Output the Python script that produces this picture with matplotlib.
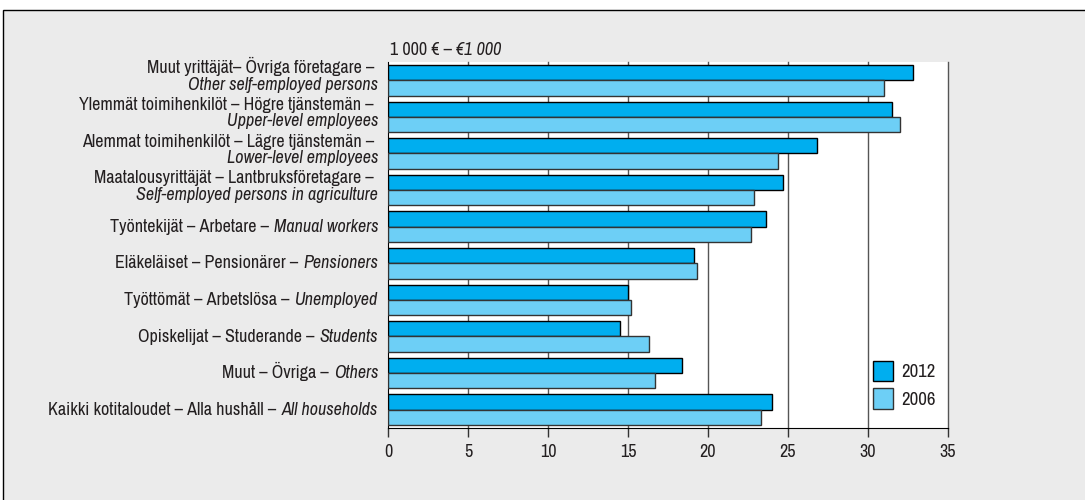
import matplotlib
matplotlib.use('Agg')
import matplotlib.pyplot as plt
from matplotlib import font_manager
from matplotlib.patches import Rectangle, Patch
import numpy as np

# look for a narrow font; fall back to DejaVu Sans
narrow = None
stretch = 'normal'
for f in font_manager.fontManager.ttflist:
    if 'Narrow' in f.name or 'Condensed' in f.name:
        narrow = f.name
        break
if narrow is None:
    for f in font_manager.fontManager.ttflist:
        if f.stretch in ('condensed', 'semi-condensed', 'extra-condensed', 600, 700) or \
                (isinstance(f.stretch, int) and f.stretch < 500):
            narrow = f.name
            stretch = 'condensed'
            break
if narrow:
    plt.rcParams['font.family'] = [narrow, 'DejaVu Sans']
    plt.rcParams['font.stretch'] = stretch
    fs = 13.0
else:
    plt.rcParams['font.family'] = ['DejaVu Sans']
    fs = 9.3

# data (1 000 €)
groups_fi = ['Muut yrittäjät– Övriga företagare –',
             'Ylemmät toimihenkilöt – Högre tjänstemän –',
             'Alemmat toimihenkilöt – Lägre tjänstemän –',
             'Maatalousyrittäjät – Lantbruksföretagare –',
             'Työntekijät – Arbetare – ',
             'Eläkeläiset – Pensionärer – ',
             'Työttömät – Arbetslösa – ',
             'Opiskelijat – Studerande – ',
             'Muut – Övriga – ',
             'Kaikki kotitaloudet – Alla hushåll – ']
groups_en = ['Other self-employed persons',
             'Upper-level employees',
             'Lower-level employees',
             'Self-employed persons in agriculture',
             'Manual workers',
             'Pensioners',
             'Unemployed',
             'Students',
             'Others',
             'All households']
two_line = [True, True, True, True, False, False, False, False, False, False]
vals_2012 = [32.8, 31.5, 26.8, 24.7, 23.6, 19.1, 15.0, 14.5, 18.4, 24.0]
vals_2006 = [31.0, 32.0, 24.4, 22.9, 22.7, 19.3, 15.2, 16.3, 16.7, 23.3]
xticks = [0, 5, 10, 15, 20, 25, 30, 35]

c2012 = '#00aeef'
c2006 = '#6dcff6'
txt = '#231f20'

fig = plt.figure(figsize=(10.85, 5), dpi=100, facecolor='white')
# gray panel
fig.patches.append(Rectangle((3 / 1085, -0.1), 1.2, 0.98 + 0.1, transform=fig.transFigure,
                             facecolor='#ebebeb', edgecolor='black', lw=1, zorder=-10))

ax = fig.add_axes([388 / 1085, 72 / 500, 560 / 1085, 366 / 500])
ax.set_facecolor('white')

y = np.arange(len(groups_en))
h = 0.42
ax.barh(y - h / 2, vals_2012, height=h, color=c2012, edgecolor='black', lw=1, zorder=3, label='2012')
ax.barh(y + h / 2, vals_2006, height=h, color=c2006, edgecolor='#333333', lw=1, zorder=3, label='2006')

ax.set_xlim(0, 35)
ax.set_ylim(len(groups_en) - 0.5, -0.5)
ax.set_xticks(xticks)
ax.set_xticklabels([str(t) for t in xticks], fontsize=fs, color=txt)
ax.set_yticks([])
ax.tick_params(axis='x', direction='out', length=6.5, width=1, color='#333333', pad=5)
for t in xticks[1:]:
    ax.axvline(t, color='#555555', lw=1, zorder=1, clip_on=False)
for s in ['top', 'right']:
    ax.spines[s].set_visible(False)
ax.spines['left'].set_color('black')
ax.spines['bottom'].set_color('black')

renderer = fig.canvas.get_renderer()
tr = ax.get_yaxis_transform()
for i in range(len(groups_en)):
    if two_line[i]:
        ax.annotate(groups_fi[i], xy=(0, i - 0.19), xycoords=tr, xytext=(-14, 0),
                    textcoords='offset pixels', ha='right', va='baseline', fontsize=fs, color=txt)
        ax.annotate(groups_en[i], xy=(0, i + 0.26), xycoords=tr, xytext=(-10, 0),
                    textcoords='offset pixels', ha='right', va='baseline', fontsize=fs,
                    style='italic', color=txt)
    else:
        it = ax.annotate(groups_en[i], xy=(0, i + 0.14), xycoords=tr, xytext=(-10, 0),
                         textcoords='offset pixels', ha='right', va='baseline', fontsize=fs,
                         style='italic', color=txt)
        w = it.get_window_extent(renderer).width
        ax.annotate(groups_fi[i].rstrip(), xy=(0, i + 0.14), xycoords=tr, xytext=(-10 - w - 5, 0),
                    textcoords='offset pixels', ha='right', va='baseline', fontsize=fs, color=txt)

# unit label
u1 = ax.annotate('1 000 € –', xy=(0, 1), xycoords='axes fraction', xytext=(2, 7),
                 textcoords='offset pixels', ha='left', va='baseline', fontsize=fs, color=txt)
w = u1.get_window_extent(renderer).width
ax.annotate('€1 000', xy=(0, 1), xycoords='axes fraction', xytext=(2 + w + 4, 7),
            textcoords='offset pixels', ha='left', va='baseline', fontsize=fs,
            style='italic', color=txt)

handles = [Patch(facecolor=c2012, edgecolor='black', lw=1),
           Patch(facecolor=c2006, edgecolor='#333333', lw=1)]
ax.legend(handles, ['2012', '2006'], loc='upper left', bbox_to_anchor=(476 / 560, 0.21),
          bbox_transform=ax.transAxes, frameon=False, fontsize=fs + 0.5, borderpad=0,
          handlelength=1.05, handleheight=1.3, labelspacing=0.4, handletextpad=0.45,
          labelcolor=txt)

fig.savefig('out.png', dpi=100, facecolor='white')
